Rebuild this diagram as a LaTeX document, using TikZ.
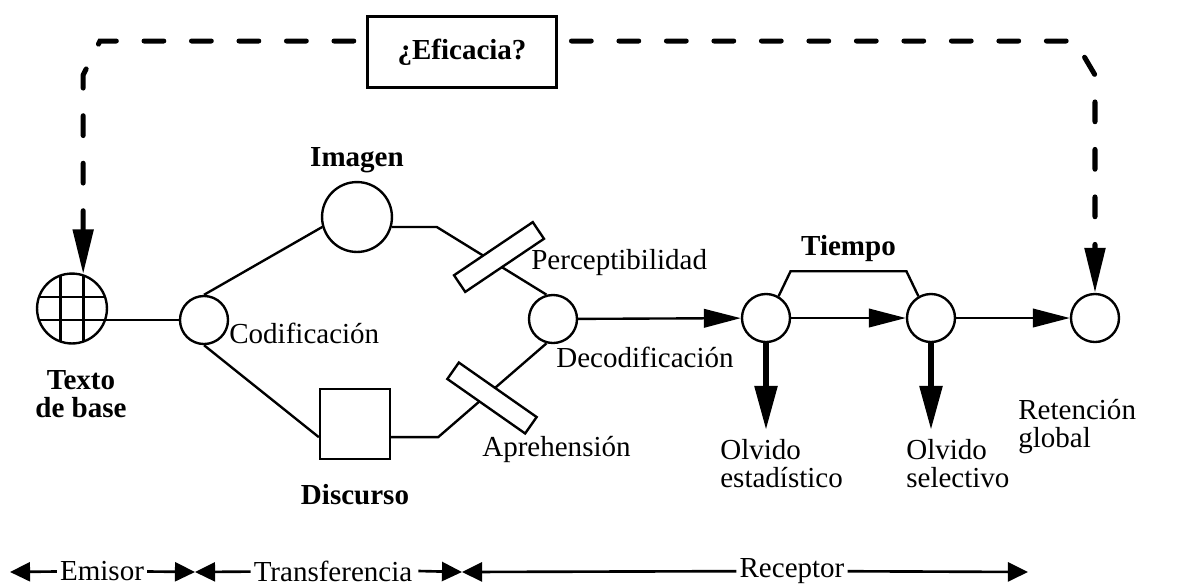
\documentclass[tikz,border=0pt]{standalone}
\usepackage{fontspec}
\setmainfont{Liberation Serif}
\usetikzlibrary{arrows.meta,calc}

\begin{document}
\begin{tikzpicture}[x=0.379pt,y=-0.379pt,
  every node/.style={font=\fontsize{11}{10.5}\selectfont},
  stage/.style={draw,circle,line width=0.9pt,minimum size=18.2pt,inner sep=0pt},
  big/.style={minimum size=26.5pt},
  bar/.style={draw,fill=white,line width=0.9pt,minimum width=36pt,minimum height=7.6pt,inner sep=0pt},
  link/.style={line width=0.9pt},
  flow/.style={line width=0.9pt,-{Triangle[length=14pt,width=7pt]}},
  drop/.style={line width=2.2pt,-{Triangle[length=16.7pt,width=8.3pt]}},
  feedback/.style={line width=1.9pt,line cap=round,dash pattern=on 7.5pt off 10.5pt,
    {Triangle[length=17pt,width=7.6pt]}-{Triangle[length=17pt,width=7.6pt]}},
  span/.style={line width=1pt,-{Triangle[length=7.6pt,width=7.2pt]}},
  tag/.style={font=\fontsize{11}{10.5}\selectfont\bfseries},
  scale label/.style={inner sep=1pt,fill=white}]
\useasboundingbox (0,0) rectangle (1180,585);

\node[stage,big] (txt) at (72,308.5) {};
\begin{scope}
\clip (txt.center) circle (35);
\draw[link] (60.5,270) -- (60.5,350) (83.5,270) -- (83.5,350) (30,297) -- (115,297) (30,320) -- (115,320);
\end{scope}
\node[tag,align=center] (txtlab) at (81,394) {Texto\\de base};

\node[stage] (cod) at (204,320) {};
\node[stage,big] (img) at (357,217) {};
\node[draw,big,line width=0.9pt,inner sep=0pt] (dis) at (355,424) {};
\node[stage] (dec) at (553,319) {};
\node[stage] (stat) at (766,318) {};
\node[stage] (sel) at (931,318) {};
\node[stage] (ret) at (1095,318) {};

\draw[link] (txt.center |- cod) -- (cod);
\draw[link] (cod.north) -- (img.196);
\draw[link] (cod.south) -- (dis.200);
\draw[link] (img.344) -- ++(45,0) -- (dec.105);
\draw[link] (dis.340) -- ++(47,0) -- (dec.255);
\node[bar,rotate=34] (per) at (499,257) {};
\node[bar,rotate=-35] (apr) at (492,398) {};

\node[tag] (imglab) at (357,160) {Imagen};
\node[tag] (dislab) at (355,495) {Discurso};
\node[anchor=west] (codlab) at (220,333) {Codificación};
\node[anchor=west] (perlab) at (522,263) {Perceptibilidad};
\node[anchor=west] (declab) at (547,357) {Decodificación};
\node[anchor=west] (aprlab) at (473,449) {Aprehensión};

\draw[flow] (dec) -- (stat);
\draw[flow] (stat) -- (sel);
\draw[flow] (sel) -- (ret);

\draw[link] (stat.60) -- ++(12,-25) coordinate (t1) -- ($(sel.120)+(-12,-25)$) coordinate (t2) -- (sel.120);
\node[tag,above] (tiempo) at ($(t1)!0.5!(t2)$) {Tiempo};

\node[anchor=north west,align=left] (ost) at (711,430) {Olvido\\estadístico};
\node[anchor=north west,align=left] (osel) at (897,430) {Olvido\\selectivo};
\node[anchor=north west,align=left] (retlab) at (1009,390) {Retención\\global};
\draw[drop] (stat.south) -- (stat.south |- ost.north);
\draw[drop] (sel.south) -- (sel.south |- osel.north);

\draw[feedback] (txt.72) -- (txt.72 |- 0,75) -- (100,41) -- (1075,41) -- (ret.north |- 0,75) -- (ret.north);
\node[draw,fill=white,line width=1pt,minimum width=71.6pt,minimum height=26.9pt,tag] (efi) at (462,52) {¿Eficacia?};

\coordinate (b0) at (10,572);
\coordinate (b1) at (195,572);
\coordinate (b2) at (462,572);
\coordinate (b3) at (1028,572);
\node[scale label] (emi) at (102,571) {Emisor};
\node[scale label] (tra) at (333,571) {Transferencia};
\node[scale label] (rec) at (792,571) {Receptor};
\draw[span] (emi) -- (b0);
\draw[span] (emi) -- (b1);
\draw[span] (tra) -- (b1);
\draw[span] (tra.east) ++(3,0) -- (b2);
\draw[span] (rec) -- (b2);
\draw[span] (rec) -- (b3);
\end{tikzpicture}
\end{document}
